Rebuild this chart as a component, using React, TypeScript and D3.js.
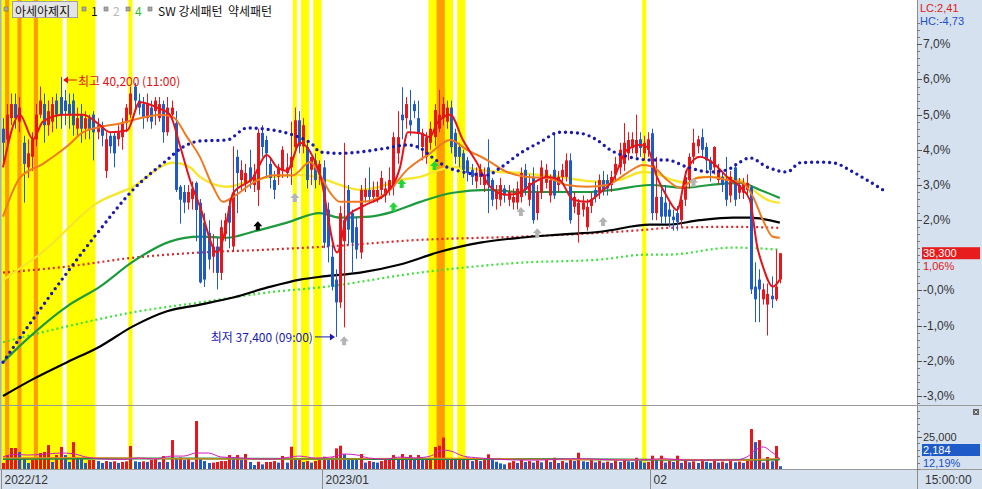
import React from 'react';
import * as d3 from 'd3';

const W = 982;
const H = 489;
const FONT = "'Noto Sans CJK KR', 'Noto Sans', sans-serif";
const NUM_FONT = "'Liberation Sans', 'DejaVu Sans', sans-serif";

// 2시간봉: 시가, 고가, 저가, 종가 (기준가 대비 %)
const ohlc: [number, number, number, number][] = [
  [4.6, 4.9, 3.6, 4.2], [4.3, 5.3, 4.1, 5.0], [4.9, 5.6, 4.7, 5.3], [5.3, 5.6, 4.6, 4.9], [4.8, 5.5, 4.5, 5.2],
  [4.2, 4.4, 2.5, 3.6], [3.5, 4.3, 3.2, 3.9], [3.8, 4.5, 3.4, 4.3], [4.3, 5.3, 4.1, 5.0], [5.0, 5.8, 4.9, 5.4],
  [5.3, 5.6, 4.2, 4.7], [4.7, 5.4, 4.4, 5.1], [4.8, 5.5, 4.5, 5.3], [5.4, 5.6, 4.6, 5.0], [5.5, 6.07, 4.6, 5.0],
  [5.4, 5.7, 4.7, 5.1], [5.3, 5.6, 4.6, 5.0], [5.4, 5.6, 4.4, 4.7], [4.6, 5.2, 4.4, 4.9], [5.0, 5.3, 4.2, 4.6],
  [4.6, 5.1, 4.3, 4.9], [4.9, 5.0, 4.3, 4.6], [5.0, 5.1, 3.7, 4.5], [4.5, 4.9, 4.3, 4.7], [4.7, 4.8, 4.1, 4.4],
  [3.4, 4.5, 3.2, 4.3], [4.4, 4.5, 3.9, 4.1], [4.4, 4.5, 3.5, 3.9], [4.3, 4.7, 4.1, 4.5], [4.36, 4.9, 4.0, 4.76],
  [4.76, 5.3, 4.5, 5.2], [5.0, 5.8, 4.9, 5.6], [5.8, 5.9, 5.2, 5.4], [5.4, 5.6, 5.0, 5.2], [5.3, 5.5, 4.6, 4.9],
  [4.9, 5.6, 4.8, 5.3], [5.2, 5.4, 4.6, 4.8], [5.1, 5.5, 4.7, 5.4], [4.9, 5.5, 4.8, 5.3], [5.3, 5.4, 4.2, 4.5],
  [4.5, 5.5, 4.4, 5.2], [5.0, 5.4, 4.8, 5.2], [4.76, 5.1, 2.8, 2.86], [2.95, 3.0, 1.9, 2.58], [2.8, 3.0, 2.2, 2.5],
  [2.5, 3.0, 2.3, 2.8], [2.6, 3.1, 2.3, 2.9], [3.06, 3.1, 1.4, 2.29], [2.49, 2.6, 0.2, 0.23], [1.93, 2.2, 0.1, 0.31],
  [1.64, 2.0, 0.6, 0.88], [0.96, 1.6, 0.5, 1.25], [1.25, 1.5, 0.03, 0.5], [0.5, 2.0, 0.3, 1.8], [1.6, 2.2, 1.4, 2.0],
  [2.4, 2.6, 1.2, 1.93], [1.25, 4.1, 1.1, 2.78], [3.8, 4.0, 2.2, 3.34], [3.14, 3.7, 2.8, 3.43], [3.06, 3.6, 2.8, 3.34],
  [3.5, 4.0, 2.9, 3.1], [3.0, 3.6, 2.8, 3.3], [2.86, 4.6, 2.4, 4.48], [4.48, 4.7, 3.8, 4.08], [4.28, 4.4, 3.2, 3.9],
  [3.6, 3.8, 2.9, 3.2], [3.14, 3.4, 2.6, 2.86], [3.23, 3.6, 3.0, 3.5], [3.43, 4.1, 3.2, 4.0], [3.34, 3.9, 3.2, 3.5],
  [3.5, 4.8, 3.0, 3.8], [4.08, 5.2, 3.9, 4.84], [4.84, 5.1, 3.9, 4.1], [4.1, 4.9, 3.9, 4.7], [4.08, 4.2, 2.9, 3.14],
  [3.43, 3.8, 3.0, 3.8], [3.7, 3.9, 2.9, 3.14], [3.3, 3.7, 3.0, 3.6], [3.5, 3.7, 1.2, 1.36], [2.3, 2.5, 0.8, 1.25],
  [0.96, 1.3, 0.0, 0.11], [0.31, 0.6, -1.32, -0.34], [-0.34, 2.4, -0.5, 2.2], [1.4, 4.2, -1.05, 2.0], [2.86, 3.0, 1.3, 1.73],
  [2.2, 2.3, 0.5, 1.36], [1.8, 2.1, 0.9, 1.16], [1.08, 3.0, 0.9, 2.86], [2.66, 3.2, 2.5, 2.86], [2.86, 3.5, 2.5, 2.66],
  [2.66, 3.1, 2.5, 2.86], [2.66, 3.1, 2.5, 2.86], [2.86, 3.4, 2.6, 3.2], [2.7, 3.1, 2.5, 2.9], [2.86, 3.5, 2.7, 3.14],
  [2.95, 4.5, 2.7, 4.36], [3.9, 5.1, 3.6, 4.36], [5.0, 5.78, 4.3, 4.84], [4.9, 5.5, 4.6, 5.3], [4.84, 5.7, 4.4, 4.7],
  [5.3, 5.4, 4.9, 5.1], [4.9, 5.4, 4.0, 4.48], [4.08, 4.6, 3.7, 4.48], [3.8, 4.5, 3.6, 4.36], [4.2, 4.8, 4.0, 4.6],
  [4.36, 5.3, 4.1, 5.13], [4.6, 5.7, 4.5, 5.0], [4.9, 5.5, 4.7, 5.3], [4.8, 5.4, 4.6, 5.2], [5.2, 5.4, 3.9, 4.08],
  [4.48, 4.6, 3.6, 3.8], [4.08, 4.2, 3.5, 3.8], [3.9, 4.0, 3.2, 3.43], [3.7, 3.8, 3.1, 3.34], [3.43, 3.6, 3.0, 3.23],
  [3.1, 3.5, 2.9, 3.35], [3.23, 3.6, 3.0, 3.43], [3.0, 3.5, 2.8, 3.3], [3.5, 4.3, 2.2, 3.0], [3.14, 3.2, 2.4, 2.58],
  [2.6, 3.0, 2.3, 2.8], [2.58, 3.2, 2.4, 3.0], [2.9, 3.0, 2.5, 2.7], [2.58, 3.0, 2.4, 2.8], [2.5, 2.9, 2.3, 2.66],
  [2.5, 3.1, 2.3, 2.9], [2.66, 3.5, 2.5, 3.34], [3.43, 3.6, 2.7, 2.86], [2.58, 3.3, 2.4, 3.06], [3.23, 3.5, 1.9, 2.0],
  [2.2, 3.0, 2.0, 2.8], [2.78, 3.7, 2.6, 3.5], [3.06, 3.6, 2.9, 3.43], [2.7, 3.3, 2.5, 3.14], [3.43, 4.48, 2.6, 2.7],
  [3.0, 3.4, 2.8, 3.23], [3.23, 3.6, 3.1, 3.43], [3.23, 3.9, 3.1, 3.7], [3.7, 3.9, 1.9, 2.0], [2.38, 2.8, 2.2, 2.66],
  [2.15, 2.6, 1.36, 2.5], [2.3, 2.7, 2.1, 2.5], [1.8, 2.6, 1.7, 2.38], [2.4, 2.8, 2.2, 2.6], [2.86, 3.1, 2.5, 2.66],
  [2.78, 3.3, 2.6, 3.14], [3.14, 3.4, 2.7, 2.86], [3.14, 3.3, 2.7, 2.9], [3.0, 3.4, 2.8, 3.23], [3.3, 3.8, 3.1, 3.6],
  [3.5, 4.2, 3.3, 4.0], [3.6, 4.76, 3.4, 4.2], [3.9, 4.5, 3.7, 4.28], [4.05, 4.5, 3.9, 4.3], [3.9, 5.0, 3.8, 4.28],
  [4.3, 4.5, 3.8, 4.05], [3.9, 4.4, 3.7, 4.2], [4.0, 4.5, 3.8, 4.3], [4.47, 4.6, 2.0, 2.2], [2.2, 3.8, 2.0, 2.66],
  [2.66, 2.9, 1.9, 2.1], [2.5, 3.0, 1.9, 2.1], [2.3, 2.5, 1.8, 2.1], [2.1, 2.3, 1.7, 2.0], [2.2, 2.4, 1.7, 1.95],
  [2.0, 2.7, 1.8, 2.58], [2.58, 3.4, 2.4, 3.23], [3.14, 3.9, 2.9, 3.8], [3.8, 4.6, 3.6, 4.2], [4.1, 4.4, 3.9, 4.3],
  [4.36, 4.6, 3.8, 4.0], [4.08, 4.2, 3.4, 3.7], [3.7, 3.8, 3.1, 3.43], [3.5, 4.1, 3.3, 4.08], [3.14, 3.6, 3.0, 3.43],
  [3.23, 3.4, 2.8, 3.0], [3.14, 3.8, 2.4, 2.58], [2.7, 3.4, 2.5, 3.23], [3.5, 3.6, 2.4, 2.58], [2.78, 3.2, 2.6, 3.0],
  [2.78, 3.2, 2.6, 3.06], [2.86, 3.3, 2.7, 3.06], [2.95, 3.0, -0.1, 0.03], [0.11, 0.8, -0.9, -0.25], [0.31, 0.6, -0.9, 0.03],
  [-0.25, 0.2, -0.4, 0.03], [-0.4, 0.2, -1.28, -0.1], [-0.15, 0.4, -0.5, -0.25], [-0.25, 1.16, -0.3, 0.11], [0.31, 1.06, 0.2, 1.06],
];

const volumes = [
  4700, 10900, 16400, 16400, 13300, 8600, 4700, 7000, 7400, 12500,
  13300, 18700, 5500, 10900, 17200, 10900, 5500, 21000, 8600, 7800,
  4700, 7000, 7000, 6200, 4700, 6200, 5500, 6000, 4700, 5500,
  6000, 18000, 6000, 5500, 6000, 5500, 7000, 8600, 5500, 10100,
  5500, 22600, 8600, 9000, 7000, 8600, 5500, 37500, 7800, 6200,
  4700, 5000, 5500, 6200, 6200, 10900, 9400, 10900, 7000, 11700,
  5500, 3100, 5700, 3600, 5500, 5500, 6200, 5000, 10200, 5000,
  17400, 7000, 7000, 5500, 6200, 5000, 6200, 7000, 9600, 7000,
  9000, 16100, 18200, 11500, 8600, 8000, 7000, 11700, 5000, 6200,
  5500, 5000, 6200, 7000, 7000, 10900, 8000, 11700, 9400, 10900,
  8000, 10900, 7000, 7000, 8000, 17200, 18200, 24500, 8000, 8600,
  7000, 8000, 7000, 9000, 6200, 8000, 6200, 7000, 11500, 7000,
  5700, 4400, 3600, 5000, 6200, 4700, 7000, 5500, 6200, 5000,
  6600, 5200, 7000, 5500, 8800, 4700, 6200, 5000, 7400, 6200,
  12700, 6000, 5500, 7000, 5200, 6400, 5000, 5800, 4700, 6600,
  5500, 7800, 6000, 5400, 8800, 6200, 5000, 5600, 10400, 7000,
  10400, 5000, 6200, 5500, 10400, 4800, 6600, 5200, 6000, 4700,
  6200, 5600, 4800, 6400, 5000, 5800, 4600, 6200, 5200, 5800,
  4800, 6800, 31200, 21000, 22600, 5000, 9400, 6000, 18000, 2184,
];

type Pt = [number, number]; // [봉 번호, 값]

const ma5: Pt[] = [[0, 3.5], [4.1, 5.0], [7.3, 4.3], [9.7, 4.8], [14.6, 5.0], [19.5, 5.0], [23.6, 4.7], [26, 4.5], [30.2, 4.55], [33.3, 5.35], [37.5, 5.2], [40.6, 5.0], [43.1, 4.1], [45.5, 3.14], [47.9, 2.4], [52.1, 1.08], [53.5, 1.44], [56, 2.77], [60.8, 3.2], [64.2, 3.85], [66.7, 3.5], [69.1, 3.4], [72.3, 4.2], [75.4, 3.8], [77.1, 3.3], [81.3, 1.08], [83.7, 2.1], [87.6, 2.4], [93.4, 2.78], [96.6, 3.5], [98.5, 4.5], [101.5, 4.47], [103.9, 4.36], [105.6, 4.76], [108.8, 5.0], [111.9, 4.28], [115.3, 3.63], [118.5, 2.95], [122.6, 2.72], [125.8, 2.78], [129, 3.06], [132.4, 3.23], [135.5, 3.14], [138.7, 2.58], [142.1, 2.52], [145.3, 2.78], [148.4, 3.14], [151.8, 4.0], [155, 4.14], [156.7, 4.08], [159.1, 3.23], [161.6, 2.66], [164, 2.29], [166.4, 3.43], [169.6, 3.8], [172.7, 3.63], [176.2, 3.23], [179.3, 2.95], [181.7, 2.58], [183.5, 1.25], [184.9, 0.68], [187.3, 0.11], [189, 0.31]];
const ma10: Pt[] = [[0, 2.1], [4.1, 3.2], [9.7, 3.6], [15.6, 4.1], [19.5, 4.5], [23.6, 4.65], [28.5, 4.75], [33.3, 4.9], [38.2, 5.0], [41.4, 4.93], [44.8, 4.36], [47.9, 3.8], [51.1, 2.95], [53.5, 2.52], [56, 2.66], [60.8, 3.06], [65.7, 3.28], [70.6, 3.28], [74.7, 3.65], [77.1, 3.3], [79.6, 2.78], [82, 2.52], [86.9, 2.52], [93.4, 2.78], [98.3, 3.43], [103.9, 3.9], [108.8, 4.28], [112.9, 4.0], [117.8, 3.71], [122.6, 3.37], [127.5, 3.23], [132.4, 3.2], [137.2, 3.0], [142.1, 2.95], [147, 3.0], [151.8, 3.34], [155.7, 3.57], [158.2, 3.51], [161.6, 3.14], [164.7, 2.92], [168.9, 3.2], [172, 3.23], [176.2, 3.14], [180, 3.06], [182.5, 2.66], [184.9, 2.0], [187.3, 1.53], [189, 1.5]];
const ma20: Pt[] = [[0, 0.3], [9.7, 1.1], [22.9, 2.49], [31.6, 2.95], [41.4, 3.63], [45.5, 3.5], [47.9, 3.23], [54.5, 2.95], [60.8, 3.14], [65.7, 3.23], [72.3, 3.28], [78.8, 3.14], [82, 3.0], [86.9, 2.86], [91.7, 2.95], [96.6, 3.14], [101.5, 3.23], [106.3, 3.43], [111.2, 3.51], [116.1, 3.43], [120.9, 3.37], [125.8, 3.34], [130.7, 3.28], [135.5, 3.23], [140.4, 3.14], [145.3, 3.09], [150.1, 3.15], [155.7, 3.37], [158.2, 3.34], [163, 3.14], [166.4, 3.06], [169.6, 3.23], [174.5, 3.23], [179.3, 3.14], [182.5, 2.86], [185.9, 2.58], [189, 2.49]];
const ma60: Pt[] = [[0, -2.04], [5.8, -1.39], [15.6, -0.45], [23.6, 0.11], [31.6, 0.82], [40.6, 1.39], [47.9, 1.53], [54.5, 1.5], [60.8, 1.67], [69.1, 1.93], [77.1, 2.2], [82, 2.07], [89.3, 2.1], [94.9, 2.24], [101.5, 2.52], [109.5, 2.78], [117.8, 2.86], [125.8, 2.8], [142.1, 2.8], [148.4, 2.86], [157.4, 3.0], [165.5, 2.92], [172, 3.0], [179.3, 3.06], [184.2, 2.86], [189, 2.63]];
const ma120: Pt[] = [[0, -3.0], [7.3, -2.52], [15.6, -2.04], [23.6, -1.59], [31.6, -1.02], [39.9, -0.59], [47.9, -0.4], [56, -0.2], [64.2, 0.08], [72.3, 0.31], [77.9, 0.4], [86.9, 0.51], [96.6, 0.74], [106.3, 1.1], [116.1, 1.36], [125.8, 1.5], [135.5, 1.59], [145.3, 1.67], [157.4, 1.87], [161.6, 1.87], [169.6, 2.0], [177.6, 2.07], [181.7, 2.07], [189, 1.93]];
const ma240: Pt[] = [[0, 0.51], [15.6, 0.68], [31.6, 0.93], [47.9, 1.08], [64.2, 1.16], [78.8, 1.25], [101.5, 1.44], [125.8, 1.53], [145.3, 1.64], [156.7, 1.73], [161.6, 1.78], [177.6, 1.81], [189, 1.78]];
const ma480: Pt[] = [[0, -1.47], [15.6, -1.02], [31.6, -0.62], [47.9, -0.34], [64.2, -0.06], [78.8, 0.11], [101.5, 0.51], [125.8, 0.79], [145.3, 0.88], [156.7, 1.02], [161.6, 1.02], [177.6, 1.22], [189, 1.16]];
const leadSpan: Pt[] = [[0, -2.04], [7.3, -0.82], [15.6, 0.51], [23.6, 1.73], [31.6, 2.86], [39.9, 3.71], [43.8, 4.08], [47.9, 4.25], [54.5, 4.28], [59.4, 4.62], [65.7, 4.56], [70.6, 4.42], [75.4, 4.14], [77.1, 3.94], [82, 3.9], [86.9, 3.94], [93.4, 4.05], [98.3, 4.14], [101.5, 4.05], [104.6, 3.77], [108, 3.51], [111.9, 3.37], [117.8, 3.28], [120.9, 3.48], [125.8, 3.9], [130.7, 4.22], [135.5, 4.5], [140.4, 4.47], [144.5, 4.28], [147.7, 4.0], [153.3, 3.77], [157.4, 3.71], [161.6, 3.71], [166.4, 3.51], [172, 3.37], [176.2, 3.43], [179.3, 3.65], [181.7, 3.77], [185.9, 3.51], [190.8, 3.37], [193.9, 3.63], [198.8, 3.65], [202, 3.63], [206.8, 3.37], [210.2, 3.14], [214.1, 2.86]];

const volMa5: Pt[] = [[0, 9500], [3, 11500], [6, 10900], [10, 11500], [14, 12500], [17, 12000], [20, 9500], [24, 7800], [30, 7500], [33, 8600], [37, 7800], [41, 10100], [44, 10100], [47, 12500], [50, 12500], [53, 9400], [58, 8600], [62, 7800], [66, 7800], [70, 9400], [72, 10100], [76, 8600], [80, 9400], [83, 11700], [86, 11000], [89, 8600], [93, 7800], [97, 9400], [100, 8600], [104, 10100], [107, 14800], [109, 14000], [112, 10100], [116, 8600], [120, 7800], [125, 7000], [130, 7000], [136, 7800], [141, 8000], [146, 7400], [152, 7000], [157, 7400], [161, 8000], [166, 7000], [172, 7000], [178, 7000], [181, 9400], [183, 14800], [185, 17200], [187, 13300], [188, 11000], [189, 7800]];
const volMa20: Pt[] = [[0, 8600], [20, 9000], [40, 8000], [60, 7800], [80, 7800], [100, 8600], [120, 8000], [140, 7400], [160, 7400], [180, 7000], [189, 8200]];
const volMa60: Pt[] = [[0, 7800], [30, 8200], [60, 8000], [90, 7800], [120, 7800], [150, 7400], [170, 7000], [189, 7400]];

// 패턴 구간 (봉 번호 시작/끝)
const swBands: [number, number][] = [[0, 14], [16, 22], [31, 31], [71, 71], [73, 74], [76, 77], [104, 109], [111, 112], [156, 156]];
const strongBands: [number, number][] = [[1, 1], [4, 4], [8, 8], [106, 107]];

// 신호 화살표
const signalIdx = [62, 71, 83, 95, 97, 105, 126, 130, 146, 168];
const signalVal = [1.83, 2.63, -1.44, 2.37, 3.03, 3.54, 2.23, 1.63, 1.95, 3.06];
const signalKind = ['k', 'g', 'g', 'n', 'n', 'n', 'g', 'g', 'g', 'g'];

const pctTicks = [7, 6, 5, 4, 3, 2, 0, -1, -2, -3];
const pctTickLabels = ['7,0%', '6,0%', '5,0%', '4,0%', '3,0%', '2,0%', '-0,0%', '-1,0%', '-2,0%', '-3,0%'];
const monthStart = [0, 78, 158];
const monthLabels = ['2022/12', '2023/01', '02'];

const highText = '최고 40,200 (11:00)';
const lowText = '최저 37,400 (09:00)';
const lastPriceText = '38,300';
const lastPctText = '1,06%';
const lastVolText = '2,184';
const lastVolPctText = '12,19%';

const UP = '#e8161b';
const DOWN = '#1f5bc8';

export default function App() {
  const x = d3.scaleLinear().domain([0, 189]).range([3, 779.8]);
  const step = x(1) - x(0);
  const y = d3.scaleLinear().domain([-3, 7]).range([396, 44.3]);
  const yv = d3.scaleLinear().domain([0, 25000]).range([469, 437]);

  const line = d3.line<Pt>().x(d => x(d[0])).y(d => y(d[1])).curve(d3.curveMonotoneX);
  const vline = d3.line<Pt>().x(d => x(d[0])).y(d => yv(d[1])).curve(d3.curveMonotoneX);

  const hiI = d3.maxIndex(ohlc, d => d[1]);
  const loI = d3.minIndex(ohlc, d => d[2]);
  const hx = x(hiI) + 2.5;
  const hy = y(ohlc[hiI][1]) + 3;
  const lx = x(loI) - 1;
  const ly = y(ohlc[loI][2]);

  const band = (b: [number, number]) => ({ x0: x(b[0]) - step / 2, w: x(b[1]) - x(b[0]) + step });

  const minor = d3.range(-36, 77, 2).map(v => v / 10).filter(v => y(v) > 2 && y(v) < 404);
  const volMinor = d3.range(0, 50001, 5000).filter(v => yv(v) > 407);

  const arrow = (cx: number, cy: number) =>
    `M${cx},${cy - 5}L${cx + 4.5},${cy}L${cx + 2},${cy}L${cx + 2},${cy + 4}L${cx - 2},${cy + 4}L${cx - 2},${cy}L${cx - 4.5},${cy}Z`;
  const kindColor: Record<string, string> = { k: '#000000', g: '#b4b4b4', n: '#22d63a' };

  const legendSq = [4, 82, 104, 126, 148];
  const yLast = y(1.06);

  return (
    <>
      <style>{'body{margin:0}'}</style>
      <svg width={W} height={H} style={{ display: 'block', fontFamily: FONT }}>
        <rect x={0} y={0} width={W} height={H} fill="#ffffff" />
        <defs>
          <clipPath id="main"><rect x={0} y={0} width={917} height={405} /></clipPath>
          <clipPath id="vol"><rect x={0} y={406} width={917} height={63} /></clipPath>
        </defs>

        {/* pattern bands */}
        {swBands.map((b, k) => {
          const r = band(b);
          return <rect key={'sw' + k} x={r.x0} y={0} width={r.w} height={469} fill="#ffff00" />;
        })}
        {strongBands.map((b, k) => {
          const r = band(b);
          return <rect key={'st' + k} x={r.x0} y={0} width={r.w} height={469} fill="#ff9c00" />;
        })}
        <rect x={0} y={0} width={1.5} height={469} fill="#a6aec8" />

        <g clipPath="url(#main)">
          <path d={line(ma480) || ''} fill="none" stroke="#3ee03e" strokeWidth={2.2} strokeDasharray="2 3" />
          <path d={line(ma240) || ''} fill="none" stroke="#d8282a" strokeWidth={2.2} strokeDasharray="2 3" />
          <path d={line(ma120) || ''} fill="none" stroke="#000000" strokeWidth={2.2} />
          <path d={line(ma60) || ''} fill="none" stroke="#1d9a3e" strokeWidth={2.2} />
          <path d={line(ma20) || ''} fill="none" stroke="#f7e62a" strokeWidth={2.4} />

          {ohlc.map((d, i) => {
            const [o, h, l, c] = d;
            const cx = Math.round(x(i));
            const col = c >= o ? UP : DOWN;
            const top = y(Math.max(o, c));
            const bh = Math.max(1, y(Math.min(o, c)) - top);
            return (
              <g key={'c' + i}>
                <line x1={cx + 0.5} x2={cx + 0.5} y1={y(h)} y2={y(l)} stroke={col} strokeWidth={1} />
                <rect x={cx - 1} y={top} width={3} height={bh} fill={col} />
              </g>
            );
          })}

          <path d={line(ma10) || ''} fill="none" stroke="#f07a22" strokeWidth={2} />
          <path d={line(ma5) || ''} fill="none" stroke="#e3141a" strokeWidth={2} />
          <path d={line(leadSpan) || ''} fill="none" stroke="#1a1aae" strokeWidth={3.4} strokeDasharray="0 6" strokeLinecap="round" />

          {signalIdx.map((s, k) => (
            <path key={'s' + k} d={arrow(x(s), y(signalVal[k]))} fill={kindColor[signalKind[k]]} />
          ))}

          {/* high / low notes */}
          <line x1={hx + 3} x2={hx + 14} y1={hy} y2={hy} stroke="#e01010" strokeWidth={1} />
          <path d={`M${hx},${hy}L${hx + 5},${hy - 3.5}L${hx + 5},${hy + 3.5}Z`} fill="#e01010" />
          <text x={hx + 15} y={hy} fontSize={12} fill="#e01010" dominantBaseline="central">{highText}</text>

          <line x1={lx - 20} x2={lx - 3} y1={ly} y2={ly} stroke="#1a1aae" strokeWidth={1} />
          <path d={`M${lx},${ly}L${lx - 5},${ly - 3.5}L${lx - 5},${ly + 3.5}Z`} fill="#1a1aae" />
          <text x={lx - 22} y={ly} fontSize={12} fill="#1a1aae" textAnchor="end" dominantBaseline="central">{lowText}</text>
        </g>

        {/* volume */}
        <g clipPath="url(#vol)">
          {volumes.map((v, i) => {
            const cx = Math.round(x(i));
            const col = i > 0 && v < volumes[i - 1] ? DOWN : UP;
            return <rect key={'v' + i} x={cx - 1} y={yv(v)} width={3} height={yv(0) - yv(v)} fill={col} />;
          })}
          <path d={vline(volMa60) || ''} fill="none" stroke="#1f8a3e" strokeWidth={2} />
          <path d={vline(volMa20) || ''} fill="none" stroke="#f08a1c" strokeWidth={1.2} />
          <path d={vline(volMa5) || ''} fill="none" stroke="#d01cc0" strokeWidth={1} />
        </g>

        {/* legend */}
        {legendSq.map((lx0, k) => (
          <rect key={'lq' + k} x={lx0} y={7} width={4} height={4} fill="#a8a8a8" stroke="#707070" strokeWidth={0.6} />
        ))}
        <rect x={12.5} y={1.5} width={65} height={16} fill="#e4e4e4" stroke="#a0a0a0" />
        <text x={15} y={10} fontSize={12} fill="#111" dominantBaseline="central">아세아제지</text>
        <text x={91} y={10} fontSize={12} fill="#111" dominantBaseline="central">1</text>
        <text x={113} y={10} fontSize={12} fill="#b8b8b8" dominantBaseline="central">2</text>
        <text x={135} y={10} fontSize={12} fill="#2bbf2b" dominantBaseline="central">4</text>
        <text x={158} y={10} fontSize={12} fill="#111" dominantBaseline="central" xmlSpace="preserve">SW 강세패턴  약세패턴</text>

        {/* right axis */}
        <rect x={917} y={0} width={65} height={H} fill="#d5e1ef" />
        <rect x={0} y={470} width={W} height={19} fill="#d5e1ef" />
        <line x1={917.5} x2={917.5} y1={0} y2={H} stroke="#8c8c8c" />
        <line x1={0} x2={W} y1={405.5} y2={405.5} stroke="#9a9a9a" />
        <line x1={0} x2={W} y1={469.5} y2={469.5} stroke="#9a9a9a" />

        <g fontFamily={NUM_FONT}>
          {minor.map((v, k) => (
            <line key={'mt' + k} x1={917} x2={920} y1={Math.round(y(v)) + 0.5} y2={Math.round(y(v)) + 0.5} stroke="#7a7a7a" />
          ))}
          {pctTicks.map((v, k) => (
            <g key={'pt' + k}>
              <line x1={917} x2={922} y1={Math.round(y(v)) + 0.5} y2={Math.round(y(v)) + 0.5} stroke="#555" />
              <text x={923} y={y(v)} fontSize={12} fill="#333" dominantBaseline="central">{pctTickLabels[k]}</text>
            </g>
          ))}
          <text x={920} y={7.5} fontSize={11} fill="#e01818" dominantBaseline="central">LC:2,41</text>
          <text x={920} y={20.5} fontSize={11} fill="#2050c0" dominantBaseline="central">HC:-4,73</text>

          <rect x={922} y={yLast - 6} width={58} height={12} fill="#e81c1c" />
          <text x={923} y={yLast} fontSize={11} fill="#ffffff" dominantBaseline="central">{lastPriceText}</text>
          <text x={923} y={yLast + 13} fontSize={11} fill="#e01818" dominantBaseline="central">{lastPctText}</text>

          {volMinor.map((v, k) => (
            <line key={'vt' + k} x1={917} x2={920} y1={Math.round(yv(v)) + 0.5} y2={Math.round(yv(v)) + 0.5} stroke="#7a7a7a" />
          ))}
          <line x1={917} x2={922} y1={Math.round(yv(25000)) + 0.5} y2={Math.round(yv(25000)) + 0.5} stroke="#555" />
          <text x={923} y={yv(25000)} fontSize={11} fill="#333" dominantBaseline="central">25,000</text>
          <rect x={922} y={444} width={58} height={12} fill="#1f5bc8" />
          <text x={923} y={450} fontSize={11} fill="#ffffff" dominantBaseline="central">{lastVolText}</text>
          <text x={923} y={463} fontSize={11} fill="#2050c0" dominantBaseline="central">{lastVolPctText}</text>
          <rect x={973} y={409} width={6} height={6} fill="#606060" />
          <path d="M974.5,410.5L977.5,413.5M977.5,410.5L974.5,413.5" stroke="#ffffff" strokeWidth={0.8} />

          {/* time axis */}
          {monthStart.map((m, k) => {
            const sx = Math.max(0.5, Math.round(x(m) - step / 2) + 0.5);
            return (
              <g key={'m' + k}>
                <line x1={sx} x2={sx} y1={470} y2={H} stroke="#8c8c8c" />
                <text x={sx + 3} y={480} fontSize={12} fill="#333" dominantBaseline="central">{monthLabels[k]}</text>
              </g>
            );
          })}
          <text x={925} y={480} fontSize={12} fill="#333" dominantBaseline="central">15:00:00</text>
        </g>
      </svg>
    </>
  );
}
